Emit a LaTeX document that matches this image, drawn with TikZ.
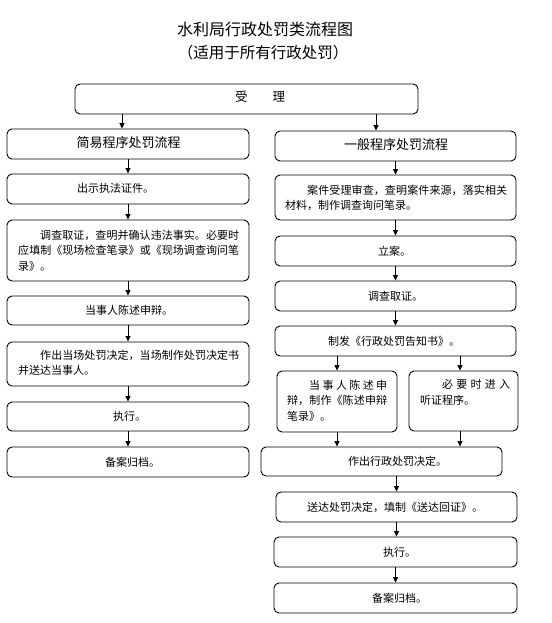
\documentclass[tikz,border=0pt]{standalone}
\usepackage{fontspec}
\setmainfont{Noto Sans CJK SC}
\usetikzlibrary{arrows.meta,fit}
\XeTeXlinebreaklocale "zh"
\XeTeXlinebreakskip=0pt plus 1pt
\begin{document}
\begin{tikzpicture}[x=1pt,y=-1pt,
  box/.style={draw, line width=0.9pt, rounded corners=5pt, inner sep=0pt, fit={#1}},
  txt/.style={inner sep=0pt, font=\fontsize{11}{15.5}\selectfont},
  para/.style={txt, align=justify, anchor=north west},
  head/.style={inner sep=0pt, font=\fontsize{13}{15}\selectfont},
  arr/.style={line width=0.8pt, -{Triangle[length=5.5pt,width=5pt]}}]
\useasboundingbox[fill=white] (0,0) rectangle (551,623);

% titles
\node[inner sep=0pt, font=\fontsize{16}{18}\selectfont] (title) at (265,29) {水利局行政处罚类流程图};
\node[inner sep=0pt, font=\fontsize{15.5}{17}\selectfont] (subtitle) at (263,53) {（适用于所有行政处罚）};

% top box
\node[box={(75,84) (418,114)}] (top) {};
\node[inner sep=0pt, font=\fontsize{12.5}{14}\selectfont] (topt) at (260,97) {受\hspace{2em}理};

% left column
\node[box={(7,129) (249,159)}] (L1) {};
\node[head] (L1t) at (128.5,143) {简易程序处罚流程};
\node[box={(7,174) (249,204)}] (L2) {};
\node[txt, anchor=west] (L2t) at (77,188.5) {出示执法证件。};
\node[box={(7,220) (249,281)}] (L3) {};
\node[para, text width=221pt] (L3t) at (18,229.5) {\hspace*{2em}调查取证，查明并确认违法事实。必要时\linebreak 应填制《现场检查笔录》或《现场调查询问笔\linebreak 录》。};
\node[box={(7,296) (249,325)}] (L4) {};
\node[txt, anchor=west] (L4t) at (85,310.5) {当事人陈述申辩。};
\node[box={(7,342) (249,386)}] (L5) {};
\node[para, text width=221pt] (L5t) at (18,349.5) {\hspace*{2em}作出当场处罚决定，当场制作处罚决定书\linebreak 并送达当事人。};
\node[box={(7,402) (249,431)}] (L6) {};
\node[txt, anchor=west] (L6t) at (113,416.5) {执行。};
\node[box={(7,447) (249,477)}] (L7) {};
\node[txt, anchor=west] (L7t) at (105,462) {备案归档。};

% right column
\node[box={(275,131) (516,161)}] (R1) {};
\node[head] (R1t) at (396,145) {一般程序处罚流程};
\node[box={(275,175) (516,220)}] (R2) {};
\node[para, text width=222pt] (R2t) at (285,184.5) {\hspace*{2em}案件受理审查，查明案件来源，落实相关\linebreak 材料，制作调查询问笔录。};
\node[box={(275,236) (516,266)}] (R3) {};
\node[txt, anchor=west] (R3t) at (378,251) {立案。};
\node[box={(275,281) (516,311)}] (R4) {};
\node[txt, anchor=west] (R4t) at (368,296) {调查取证。};
\node[box={(275,326) (516,356)}] (R5) {};
\node[txt, anchor=west] (R5t) at (328,341) {制发《行政处罚告知书》。};
\node[box={(277,371) (397,432)}] (R6a) {};
\node[para, text width=100pt] (R6at) at (287,379.5) {\hspace*{2em}当事人陈述申\linebreak 辩，制作《陈述申辩\linebreak 笔录》。};
\node[box={(409,371) (518,431)}] (R6b) {};
\node[para, text width=90pt] (R6bt) at (420,379.5) {\hspace*{2em}必要时进入\linebreak 听证程序。};
\node[box={(261,447) (502,476)}] (R7) {};
\node[txt, anchor=west] (R7t) at (348,461.5) {作出行政处罚决定。};
\node[box={(276,492) (517,522)}] (R8) {};
\node[txt, anchor=west] (R8t) at (307,507) {送达处罚决定，填制《送达回证》。};
\node[box={(274,537) (517,567)}] (R9) {};
\node[txt, anchor=west] (R9t) at (383,552) {执行。};
\node[box={(274,583) (517,613)}] (R10) {};
\node[txt, anchor=west] (R10t) at (372,598) {备案归档。};

% arrows
\draw[arr] ([xshift=-6pt]L1.north |- top.south) -- ([xshift=-6pt]L1.north);
\draw[arr] ([xshift=-19.5pt]R1.north |- top.south) -- ([xshift=-19.5pt]R1.north);
\draw[arr] (L1.south) -- (L2.north);
\draw[arr] (L2.south) -- (L3.north);
\draw[arr] (L3.south) -- (L4.north);
\draw[arr] (L4.south) -- (L5.north);
\draw[arr] (L5.south) -- (L6.north);
\draw[arr] (L6.south) -- (L7.north);
\draw[arr] (R1.south) -- (R2.north);
\draw[arr] (R2.south) -- (R3.north);
\draw[arr] (R3.south) -- (R4.north);
\draw[arr] (R4.south) -- (R5.north);
\draw[arr] (R6a.north |- R5.south) -- (R6a.north);
\draw[arr] ([xshift=-3.5pt]R6b.north |- R5.south) -- ([xshift=-3.5pt]R6b.north);
\draw[arr] (R6a.south) -- (R6a.south |- R7.north);
\draw[arr] ([xshift=-3.5pt]R6b.south) -- ([xshift=-3.5pt]R6b.south |- R7.north);
\draw[arr] (R8.north |- R7.south) -- (R8.north);
\draw[arr] (R8.south) -- (R8.south |- R9.north);
\draw[arr] (R9.south) -- (R10.north);
\end{tikzpicture}
\end{document}
